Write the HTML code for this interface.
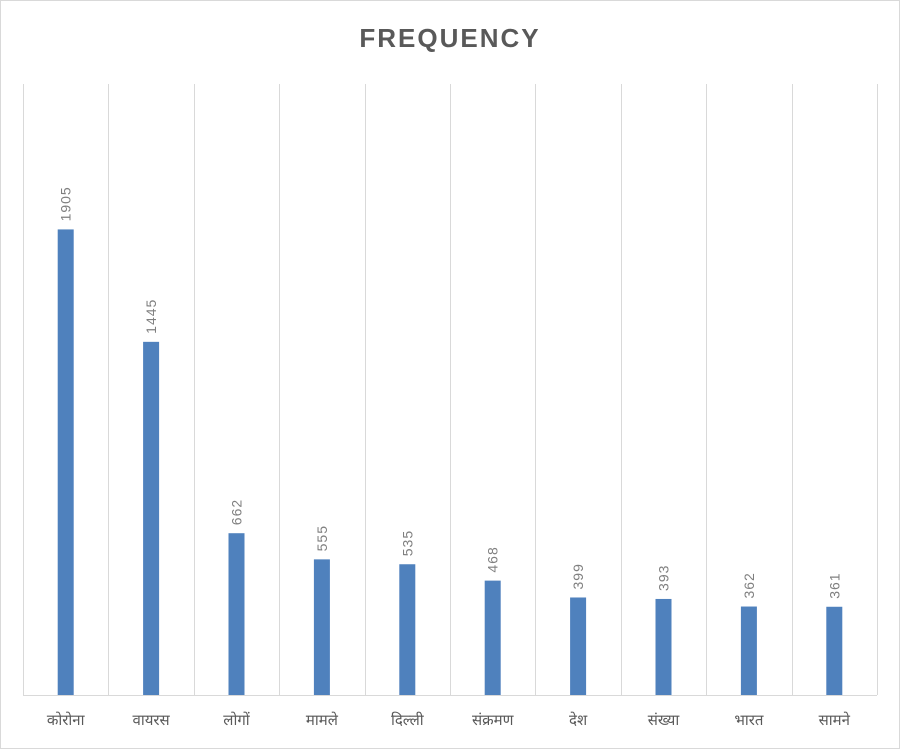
<!DOCTYPE html>
<html><head><meta charset="utf-8">
<style>
html,body{margin:0;padding:0;background:#fff;}
#wrap{position:relative;width:900px;height:749px;}
svg{position:absolute;left:0;top:0;}
</style></head>
<body>
<div id="wrap">
<svg id="chart" width="900" height="749" xmlns="http://www.w3.org/2000/svg">
<rect x="0.5" y="0.5" width="899" height="748" fill="#fff" stroke="#d9d9d9"/>
<text x="450" y="47" text-anchor="middle" font-family="Liberation Sans, sans-serif" font-size="26" font-weight="bold" fill="#595959" letter-spacing="2">FREQUENCY</text>
<g id="grid"></g><g id="bars"></g><g id="labels"></g><g id="cats"></g>
</svg>
</div>
<script>
const categories = ["कोरोना","वायरस","लोगों","मामले","दिल्ली","संक्रमण","देश","संख्या","भारत","सामने"];
const values = [1905,1445,662,555,535,468,399,393,362,361];
const yMax = 2500;
const NS="http://www.w3.org/2000/svg";
const plotLeft=23,plotRight=877,plotTop=84,plotBottom=695;
const bw=(plotRight-plotLeft)/categories.length;
const yScale=v=>plotBottom-(v/yMax)*(plotBottom-plotTop);
const xc=i=>plotLeft+bw*(i+0.5);
const grid=document.getElementById('grid'),bars=document.getElementById('bars'),labels=document.getElementById('labels'),cats=document.getElementById('cats');
function mk(tag,attrs,parent){const e=document.createElementNS(NS,tag);for(const k in attrs)e.setAttribute(k,attrs[k]);parent.appendChild(e);return e;}
for(let i=0;i<=categories.length;i++){
  const gx=Math.round(plotLeft+bw*i)+0.5;
  const l=mk('line',{x1:gx,x2:gx,y1:plotTop,y2:plotBottom,stroke:'#d9d9d9','stroke-width':1},grid);
  
  
}
const ax=mk('line',{x1:plotLeft,x2:plotRight,y1:plotBottom+0.5,y2:plotBottom+0.5,stroke:'#d9d9d9','stroke-width':1},grid);


values.forEach((v,i)=>{
  const b=mk('rect',{x:xc(i)-8,y:yScale(v),width:16,height:plotBottom-yScale(v),fill:'#4f81bd'},bars);
  
  
  const tx=xc(i)+5, ty=yScale(v)-8;
  const t=mk('text',{x:tx,y:ty,transform:`rotate(-90 ${tx} ${ty})`,'font-family':'Liberation Sans, sans-serif','font-size':14,'letter-spacing':1,fill:'#7f7f7f'},labels);
  t.textContent=v;
  
  
  const c=mk('text',{x:xc(i),y:725,'text-anchor':'middle','font-family':'Liberation Sans, "Noto Sans CJK JP", sans-serif','font-size':15,fill:'#595959'},cats);
  c.textContent=categories[i];
  
  
});
</script>
</body></html>
